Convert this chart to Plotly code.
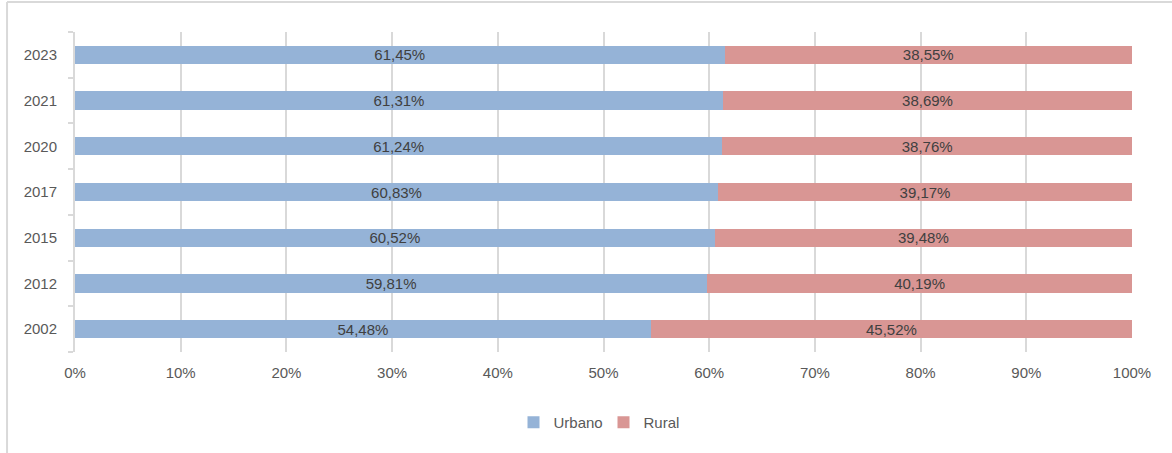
import plotly.graph_objects as go

years = ["2002", "2012", "2015", "2017", "2020", "2021", "2023"]
urbano = [54.48, 59.81, 60.52, 60.83, 61.24, 61.31, 61.45]
rural = [45.52, 40.19, 39.48, 39.17, 38.76, 38.69, 38.55]
x_ticks = [0, 10, 20, 30, 40, 50, 60, 70, 80, 90, 100]
x_tick_labels = [f"{v}%" for v in x_ticks]


def pct(v):
    return f"{v:.2f}%".replace(".", ",")


FONT = "Liberation Sans, Arial, sans-serif"

fig = go.Figure()

fig.add_trace(go.Bar(
    y=years, x=urbano, orientation="h", name="Urbano",
    marker=dict(color="#95B3D7", line=dict(width=0)),
    text=[pct(v) for v in urbano], textposition="inside", constraintext="none",
    insidetextanchor="middle", textfont=dict(color="#404040", size=15, family=FONT),
    width=0.4,
))
fig.add_trace(go.Bar(
    y=years, x=rural, orientation="h", name="Rural",
    marker=dict(color="#D99694", line=dict(width=0)),
    text=[pct(v) for v in rural], textposition="inside", constraintext="none",
    insidetextanchor="middle", textfont=dict(color="#404040", size=15, family=FONT),
    width=0.4,
))

fig.update_layout(
    barmode="stack",
    width=1172, height=453,
    margin=dict(l=75, r=40, t=32, b=101),
    plot_bgcolor="white",
    paper_bgcolor="white",
    font=dict(family=FONT, size=15, color="#595959"),
    showlegend=True,
    legend=dict(orientation="h", xanchor="center", x=0.5, yanchor="middle", y=-0.22,
                font=dict(size=15, color="#595959"), traceorder="normal",
                itemwidth=30, entrywidth=45),
)

fig.update_xaxes(
    range=[0, 100], tickvals=x_ticks, ticktext=x_tick_labels,
    showgrid=True, gridcolor="#d9d9d9", gridwidth=2,
    zeroline=False, showline=False, ticks="", ticklabelstandoff=10,
)
fig.update_yaxes(
    categoryorder="array", categoryarray=years,
    showline=True, linecolor="#d9d9d9", linewidth=2,
    ticks="outside", tickson="boundaries", ticklen=5, tickcolor="#d9d9d9", tickwidth=2,
    showgrid=False, ticklabelstandoff=13,
)

# outer chart frame (top and left edges visible in the reference)
fig.add_shape(type="line", xref="paper", yref="paper",
              x0=-0.0643, x1=1.05, y0=1.094, y1=1.094,
              line=dict(color="#d9d9d9", width=2))
fig.add_shape(type="line", xref="paper", yref="paper",
              x0=-0.0643, x1=-0.0643, y0=1.094, y1=-0.35,
              line=dict(color="#d9d9d9", width=2))

fig.write_html("out.html", config={"displayModeBar": False},
               post_script="document.body.style.margin='0px';")
